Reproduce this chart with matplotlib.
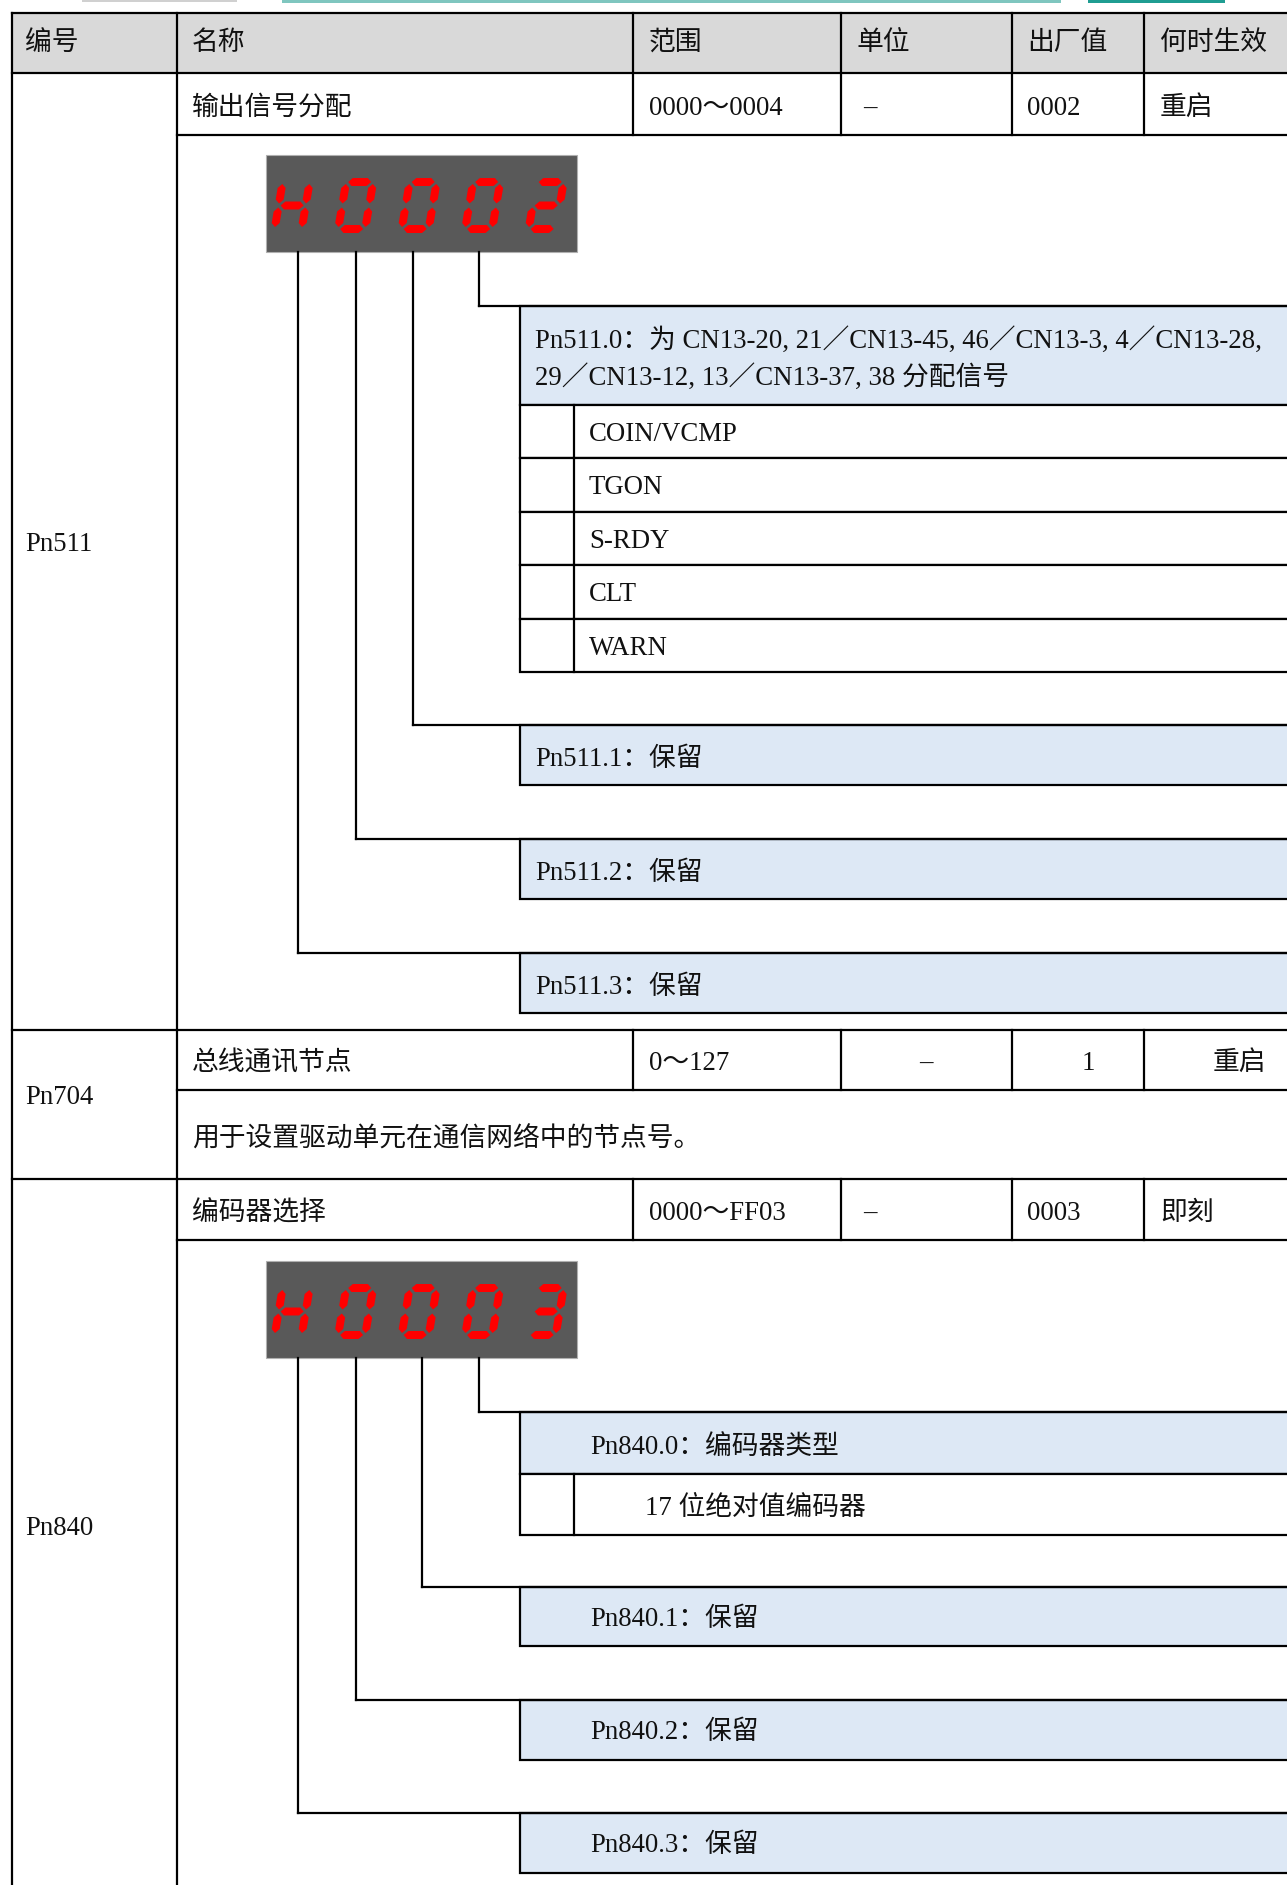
import matplotlib
matplotlib.use("Agg")
from matplotlib import pyplot as plt
from matplotlib.patches import Rectangle, Polygon

plt.rcParams['font.family'] = ['Liberation Serif', 'Noto Sans CJK SC', 'DejaVu Sans']

# ---- table content ----
header = ['编号', '名称', '范围', '单位', '出厂值', '何时生效']
row_511 = ['输出信号分配', '0000～0004', '–', '0002', '重启']
row_704 = ['总线通讯节点', '0～127', '–', '1', '重启']
row_840 = ['编码器选择', '0000～FF03', '–', '0003', '即刻']
desc_704 = '用于设置驱动单元在通信网络中的节点号。'

disp_511 = 'H0002'
disp_840 = 'H0003'

p511_0 = ['Pn511.0：为 CN13-20, 21／CN13-45, 46／CN13-3, 4／CN13-28,',
          '29／CN13-12, 13／CN13-37, 38 分配信号']
p511_opts = ['COIN/VCMP', 'TGON', 'S-RDY', 'CLT', 'WARN']
p511_rest = ['Pn511.1：保留', 'Pn511.2：保留', 'Pn511.3：保留']
p840_0 = 'Pn840.0：编码器类型'
p840_opts = ['17 位绝对值编码器']
p840_rest = ['Pn840.1：保留', 'Pn840.2：保留', 'Pn840.3：保留']

# ---- layout (pixels) ----
W, H = 1287, 1885
LW = 1.6
BLUE = '#dde8f5'
GRAY = '#d9d9d9'
TXT = '#111111'
FS = 19.3
DY = 2.5  # text baseline nudge

fig = plt.figure(figsize=(W / 100, H / 100), dpi=100)
ax = fig.add_axes([0, 0, 1, 1])
ax.set_xlim(0, W)
ax.set_ylim(H, 0)
ax.axis('off')

def hline(y, x1, x2=W + 5):
    ax.plot([x1, x2], [y, y], color='black', lw=LW, solid_capstyle='projecting')

def vline(x, y1, y2):
    ax.plot([x, x], [y1, y2], color='black', lw=LW, solid_capstyle='projecting')

def txt(x, y, s, ha='left', size=FS):
    ax.text(x, y + DY, s, ha=ha, va='center', fontsize=size, color=TXT)

# top page decoration (cut off)
ax.add_patch(Rectangle((282, -2), 779, 5, color='#7fc6bf', lw=0))
ax.add_patch(Rectangle((1088, -2), 137, 5, color='#1f9d92', lw=0))
ax.add_patch(Rectangle((82, -2), 155, 4, color='#d0d0d0', lw=0))

# header
ax.add_patch(Rectangle((12, 13), W, 60, color=GRAY, lw=0))
cols = [12, 177, 633, 841, 1012, 1144]
text_x = [25, 192, 649, 857, 1027, 1160]
for x, s in zip(text_x, header):
    txt(x, 41, s)

for y in [13, 73, 1030, 1179]:
    hline(y, 12)
for y in [135, 1090, 1240]:
    hline(y, 177)
vline(12, 13, H + 5)
vline(177, 13, H + 5)
for x in cols[2:]:
    vline(x, 13, 135)
    vline(x, 1030, 1090)
    vline(x, 1179, 1240)

# row texts
def param_row(y, vals, centered=False):
    txt(192, y, vals[0])
    txt(649, y, vals[1])
    if centered:
        txt(926, y, vals[2], ha='center')
        txt(1088, y, vals[3], ha='center')
        txt(1266, y, vals[4], ha='right')
    else:
        txt(863, y, vals[2])
        txt(1027, y, vals[3])
        txt(1160, y, vals[4])

param_row(106, row_511)
param_row(1061, row_704, centered=True)
param_row(1211, row_840)
txt(192, 1137, desc_704)

txt(25, 542, 'Pn511')
txt(25, 1095, 'Pn704')
txt(25, 1526, 'Pn840')

# ---- seven segment display ----
SEGS = {'H': 'bcefg', '0': 'abcdef', '2': 'abged', '3': 'abgcd'}

def seg_poly(name, w=35.0, h=55.0, t=8.0, g=2.0):
    m = h / 2
    def hz(y0, x1, x2):
        return [(x1, y0), (x1 + t / 2, y0 + t / 2), (x2 - t / 2, y0 + t / 2),
                (x2, y0), (x2 - t / 2, y0 - t / 2), (x1 + t / 2, y0 - t / 2)]
    def vt(x0, y1, y2):
        return [(x0, y1), (x0 + t / 2, y1 + t / 2), (x0 + t / 2, y2 - t / 2),
                (x0, y2), (x0 - t / 2, y2 - t / 2), (x0 - t / 2, y1 + t / 2)]
    table = {
        'a': hz(h - t / 2, t / 2 + g, w - t / 2 - g),
        'd': hz(t / 2, t / 2 + g, w - t / 2 - g),
        'g': hz(m, t / 2 + g, w - t / 2 - g),
        'b': vt(w - t / 2, m + g, h - t / 2 - g),
        'c': vt(w - t / 2, t / 2 + g, m - g),
        'f': vt(t / 2, m + g, h - t / 2 - g),
        'e': vt(t / 2, t / 2 + g, m - g),
    }
    return table[name]

def display(x0, y0, text):
    ax.add_patch(Rectangle((x0, y0), 311, 97, facecolor='#595959',
                           edgecolor='#b0b0b0', lw=0.8))
    base = y0 + 78
    k = 0.17
    for i, ch in enumerate(text):
        dx = x0 + 4 + i * 63.5
        for sname in SEGS[ch]:
            pts = [(dx + x + k * y, base - y) for x, y in seg_poly(sname)]
            ax.add_patch(Polygon(pts, closed=True, color='#ff0000', lw=0))

display(266, 155, disp_511)
display(266, 1261, disp_840)

# ---- connectors and sub boxes ----
BX = 520

def box(y1, y2, fill):
    ax.add_patch(Rectangle((BX, y1), W + 10 - BX, y2 - y1, facecolor=fill,
                           edgecolor='black', lw=LW))

# Pn511
for x, y in zip([298, 356, 413, 479], [953, 839, 725, 306]):
    vline(x, 252, y)
    hline(y, x)

box(306, 405, BLUE)
txt(535, 338, p511_0[0])
txt(535, 375, p511_0[1])
rows = [405, 458, 512, 565, 619, 672]
for i, s in enumerate(p511_opts):
    box(rows[i], rows[i + 1], 'white')
    vline(574, rows[i], rows[i + 1])
    txt(589, (rows[i] + rows[i + 1]) / 2, s)
for (y1, y2), s in zip([(725, 785), (839, 899), (953, 1013)], p511_rest):
    box(y1, y2, BLUE)
    txt(535, (y1 + y2) / 2 + 2, s)

# Pn840
for x, y in zip([298, 356, 422, 479], [1813, 1700, 1587, 1412]):
    vline(x, 1358, y)
    hline(y, x)

box(1412, 1474, BLUE)
txt(590, 1445, p840_0)
box(1474, 1535, 'white')
vline(574, 1474, 1535)
txt(645, 1506, p840_opts[0])
for (y1, y2), s in zip([(1587, 1646), (1700, 1760), (1813, 1873)], p840_rest):
    box(y1, y2, BLUE)
    txt(590, (y1 + y2) / 2, s)

fig.savefig('out.png', dpi=100)
